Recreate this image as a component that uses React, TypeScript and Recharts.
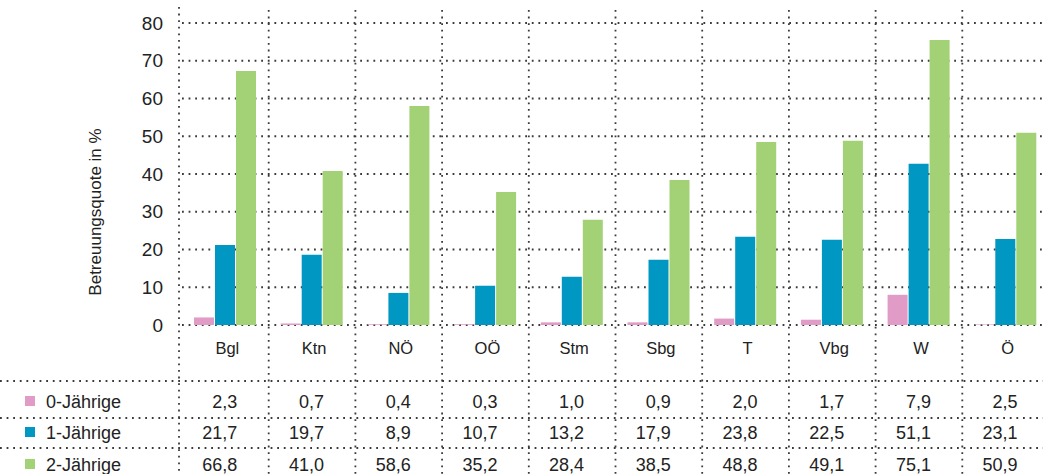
import React from 'react';
import { BarChart, Bar, XAxis, YAxis, CartesianGrid } from 'recharts';

const categories = ['Bgl', 'Ktn', 'NÖ', 'OÖ', 'Stm', 'Sbg', 'T', 'Vbg', 'W', 'Ö'];
const seriesNames = ['0-Jährige', '1-Jährige', '2-Jährige'];
const values0 = [2.0, 0.4, 0.2, 0.2, 0.7, 0.7, 1.7, 1.4, 8.0, 0.15];
const values1 = [21.2, 18.6, 8.5, 10.4, 12.8, 17.3, 23.4, 22.6, 42.7, 22.8];
const values2 = [67.3, 40.8, 58.0, 35.2, 27.9, 38.4, 48.5, 48.8, 75.5, 50.9];
const table0 = ['2,3', '0,7', '0,4', '0,3', '1,0', '0,9', '2,0', '1,7', '7,9', '2,5'];
const table1 = ['21,7', '19,7', '8,9', '10,7', '13,2', '17,9', '23,8', '22,5', '51,1', '23,1'];
const table2 = ['66,8', '41,0', '58,6', '35,2', '28,4', '38,5', '48,8', '49,1', '75,1', '50,9'];
const yTicks = [0, 10, 20, 30, 40, 50, 60, 70, 80];
const colors = ['#E09CC6', '#0097C2', '#A3D175'];
const tableRows = [table0, table1, table2];

const data = categories.map((c, i) => ({
  cat: c,
  v0: values0[i],
  v1: values1[i],
  v2: values2[i],
}));

const FONT = '"Liberation Sans", Arial, Helvetica, sans-serif';
const TEXT = '#222';
const DOT = '#3a3a3a';
const DASH = '1.8 4.8';

const CHART_W = 1049;
const CHART_H = 474;
const Y_W = 182;
const X_H = 149;
const BAND = (CHART_W - Y_W) / categories.length;

const CAT_BASE = 353.5;
const ROW_BASE = [408, 439, 471];
const ROW_LINES = [381, 418, 448];

const XTick = (props: any) => {
  const { x, index, payload } = props;
  const left = x - BAND / 2 - (index === 0 ? 3 : 0);
  return (
    <g>
      <line x1={left} x2={left} y1={index === 0 ? 7 : 10} y2={474} stroke={DOT} strokeWidth={1.8} strokeDasharray={DASH} />
      <text x={x + 2} y={CAT_BASE} textAnchor="middle" fontSize={16.5} fontFamily={FONT} fill={TEXT}>
        {payload.value}
      </text>
      {tableRows.map((row, r) => (
        <text key={r} x={x + 12} y={ROW_BASE[r]} textAnchor="end" fontSize={18} fontFamily={FONT} fill={TEXT}>
          {row[index]}
        </text>
      ))}
    </g>
  );
};

const YTick = (props: any) => {
  const { x, y, payload } = props;
  return (
    <text x={x} y={y} dy="0.355em" textAnchor="end" fontSize={19} fontFamily={FONT} fill={TEXT}>
      {payload.value}
    </text>
  );
};

export default function App() {
  return (
    <div style={{ position: 'absolute', left: 0, top: 0, width: 1043, height: 474, overflow: 'hidden', background: '#fff' }}>
      <BarChart
        width={CHART_W}
        height={CHART_H}
        data={data}
        margin={{ top: 23, right: 0, bottom: 0, left: 0 }}
        barSize={20}
        barGap={1}
      >
        <CartesianGrid vertical={false} stroke={DOT} strokeWidth={1.8} strokeDasharray={DASH} />
        <YAxis
          width={Y_W}
          domain={[0, 80]}
          ticks={yTicks}
          axisLine={false}
          tickLine={false}
          tickSize={0}
          tickMargin={19}
          tick={<YTick />}
        />
        <XAxis
          dataKey="cat"
          height={X_H}
          axisLine={false}
          tickLine={false}
          tickSize={0}
          interval={0}
          tick={<XTick />}
        />
        <Bar dataKey="v0" name={seriesNames[0]} fill={colors[0]} isAnimationActive={false} />
        <Bar dataKey="v1" name={seriesNames[1]} fill={colors[1]} isAnimationActive={false} />
        <Bar dataKey="v2" name={seriesNames[2]} fill={colors[2]} isAnimationActive={false} />
      </BarChart>
      <svg width={1043} height={474} style={{ position: 'absolute', left: 0, top: 0, pointerEvents: 'none' }}>
        <text
          x={95}
          y={212}
          transform="rotate(-90 95 212)"
          textAnchor="middle"
          dominantBaseline="central"
          fontSize={17}
          fontFamily={FONT}
          fill={TEXT}
        >
          Betreuungsquote in %
        </text>
        {ROW_LINES.map((y, i) => (
          <line key={i} x1={0} x2={1043} y1={y} y2={y} stroke={DOT} strokeWidth={1.8} strokeDasharray={DASH} />
        ))}
        {seriesNames.map((name, i) => (
          <g key={name}>
            <rect x={25} y={ROW_BASE[i] - 12} width={10} height={10} fill={colors[i]} />
            <text x={46} y={ROW_BASE[i]} fontSize={18} fontFamily={FONT} fill={TEXT}>
              {name}
            </text>
          </g>
        ))}
      </svg>
    </div>
  );
}
